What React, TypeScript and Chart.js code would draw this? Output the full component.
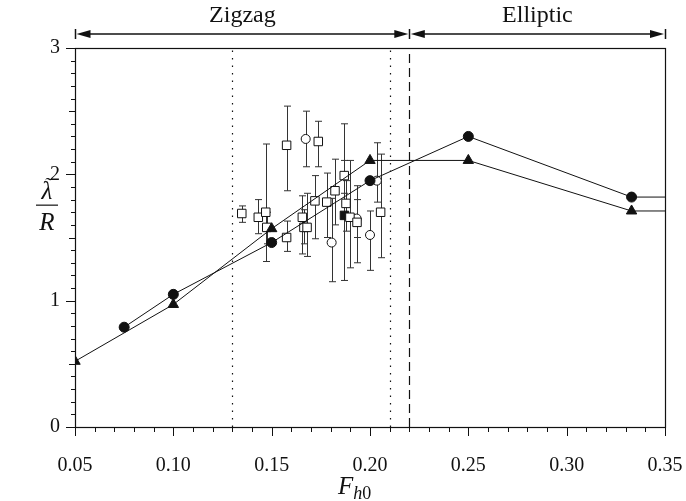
import React, { useEffect, useRef } from "react";
import { Chart, registerables } from "chart.js";

Chart.register(...registerables);

// ---- data ----
const xTickLabels = ["0.05", "0.10", "0.15", "0.20", "0.25", "0.30", "0.35"];
const yTickLabels = ["0", "1", "2", "3"];

// filled-circle series (last point only continues the line to the frame)
const circleX = [0.075, 0.1, 0.15, 0.2, 0.25, 0.333, 0.35];
const circleY = [0.79, 1.05, 1.46, 1.95, 2.3, 1.82, 1.82];
// filled-triangle series
const triX = [0.05, 0.1, 0.15, 0.2, 0.25, 0.333, 0.35];
const triY = [0.52, 0.97, 1.57, 2.11, 2.11, 1.71, 1.71];

// open squares with error bars
const sqX = [0.1348, 0.1432, 0.147, 0.1475, 0.1576, 0.1576, 0.1656, 0.1664, 0.168, 0.1737, 0.172, 0.178, 0.1822, 0.1869, 0.1878, 0.1898, 0.1934, 0.2054];
const sqY = [1.69, 1.66, 1.7, 1.58, 2.23, 1.5, 1.66, 1.58, 1.58, 2.26, 1.79, 1.78, 1.87, 1.99, 1.77, 1.66, 1.62, 1.7];
const sqLo = [1.62, 1.53, 1.31, 1.45, 1.87, 1.39, 1.37, 1.45, 1.35, 2.06, 1.49, 1.5, 1.6, 1.85, 1.55, 1.26, 1.3, 1.34];
const sqHi = [1.75, 1.8, 2.24, 1.7, 2.54, 1.63, 1.83, 1.72, 1.85, 2.42, 1.99, 2.01, 2.12, 2.11, 1.95, 2.11, 1.91, 2.16];

// open circles with error bars
const ocX = [0.1673, 0.1805, 0.1932, 0.2, 0.2035];
const ocY = [2.28, 1.46, 1.65, 1.52, 1.95];
const ocLo = [2.06, 1.15, 1.5, 1.24, 1.78];
const ocHi = [2.5, 1.81, 1.8, 1.71, 2.25];

// filled square with error bar
const fsX = [0.187];
const fsY = [1.675];
const fsLo = [1.16];
const fsHi = [2.4];

// regime boundaries and labels
const dottedLines = [0.13, 0.21];
const dashedLines = [0.22];
const regimeBounds = [0.05, 0.22, 0.35];
const regimeLabels = ["Zigzag", "Elliptic"];

const FONT = "'Liberation Serif', 'Times New Roman', serif";
const INK = "#111";

const errorSets = [
  { x: sqX, lo: sqLo, hi: sqHi },
  { x: ocX, lo: ocLo, hi: ocHi },
  { x: fsX, lo: fsLo, hi: fsHi },
];

const decorPlugin = {
  id: "decor",
  beforeDatasetsDraw(chart: any) {
    const { ctx, chartArea: a, scales } = chart;
    const xs = scales.x, ys = scales.y;
    ctx.save();
    ctx.strokeStyle = INK;
    ctx.lineWidth = 1.2;
    ctx.setLineDash([1.5, 6]);
    dottedLines.forEach((v) => {
      const px = Math.round(xs.getPixelForValue(v)) + 0.5;
      ctx.beginPath();
      ctx.moveTo(px, a.bottom);
      ctx.lineTo(px, a.top);
      ctx.stroke();
    });
    ctx.setLineDash([9, 5]);
    dashedLines.forEach((v) => {
      const px = Math.round(xs.getPixelForValue(v)) + 0.5;
      ctx.beginPath();
      ctx.moveTo(px, a.bottom);
      ctx.lineTo(px, a.top);
      ctx.stroke();
    });
    ctx.setLineDash([]);
    ctx.strokeStyle = "#333";
    ctx.lineWidth = 1;
    errorSets.forEach((s) => {
      s.x.forEach((xv, i) => {
        const px = Math.round(xs.getPixelForValue(xv)) + 0.5;
        const p1 = ys.getPixelForValue(s.lo[i]);
        const p2 = ys.getPixelForValue(s.hi[i]);
        ctx.beginPath();
        ctx.moveTo(px, p1);
        ctx.lineTo(px, p2);
        ctx.moveTo(px - 3.5, p1);
        ctx.lineTo(px + 3.5, p1);
        ctx.moveTo(px - 3.5, p2);
        ctx.lineTo(px + 3.5, p2);
        ctx.stroke();
      });
    });
    ctx.restore();
  },
  afterDraw(chart: any) {
    const { ctx, chartArea: a, scales } = chart;
    const xs = scales.x, ys = scales.y;
    ctx.save();
    ctx.strokeStyle = INK;
    ctx.fillStyle = INK;
    ctx.lineWidth = 1.2;
    ctx.strokeRect(Math.round(a.left) + 0.5, Math.round(a.top) + 0.5, Math.round(a.right - a.left), Math.round(a.bottom - a.top));
    ctx.lineWidth = 1;
    for (let k = 0; k <= 30; k++) {
      const v = k / 10;
      const py = Math.round(ys.getPixelForValue(v)) + 0.5;
      const len = k % 10 === 0 ? 9 : k % 5 === 0 ? 6 : 4;
      ctx.beginPath();
      ctx.moveTo(a.left, py);
      ctx.lineTo(a.left - len, py);
      ctx.stroke();
    }
    for (let k = 5; k <= 35; k++) {
      const v = k / 100;
      const px = Math.round(xs.getPixelForValue(v)) + 0.5;
      const len = k % 5 === 0 ? 9 : 5;
      ctx.beginPath();
      ctx.moveTo(px, a.bottom);
      ctx.lineTo(px, a.bottom + len);
      ctx.stroke();
    }
    const ay = a.top - 14;
    const drawHead = (tip: number, dir: number) => {
      ctx.beginPath();
      ctx.moveTo(tip, ay);
      ctx.lineTo(tip - dir * 14, ay - 4);
      ctx.lineTo(tip - dir * 14, ay + 4);
      ctx.closePath();
      ctx.fill();
    };
    ctx.lineWidth = 1.5;
    regimeBounds.forEach((v) => {
      const px = Math.round(xs.getPixelForValue(v)) + 0.5;
      ctx.beginPath();
      ctx.moveTo(px, ay - 5);
      ctx.lineTo(px, ay + 5);
      ctx.stroke();
    });
    for (let i = 0; i < regimeBounds.length - 1; i++) {
      const x1 = xs.getPixelForValue(regimeBounds[i]) + 1.5;
      const x2 = xs.getPixelForValue(regimeBounds[i + 1]) - 1;
      ctx.beginPath();
      ctx.moveTo(x1 + 10, ay);
      ctx.lineTo(x2 - 10, ay);
      ctx.stroke();
      drawHead(x1, -1);
      drawHead(x2, 1);
      ctx.font = `24px ${FONT}`;
      ctx.textAlign = "center";
      ctx.textBaseline = "alphabetic";
      ctx.fillText(regimeLabels[i], (x1 + x2) / 2, a.top - 26);
    }
    // x axis title F_h0
    const cx = (a.left + a.right) / 2 - 32;
    ctx.textAlign = "left";
    ctx.font = `italic 25px ${FONT}`;
    const fw = ctx.measureText("F").width;
    ctx.fillText("F", cx, 494);
    ctx.font = `italic 18px ${FONT}`;
    ctx.fillText("h", cx + fw, 499);
    const hw = ctx.measureText("h").width;
    ctx.font = `18px ${FONT}`;
    ctx.fillText("0", cx + fw + hw, 499);
    // y axis title lambda~ / R
    const yx = 47;
    const yc = ys.getPixelForValue(1.76);
    ctx.textAlign = "center";
    ctx.font = `italic 25px ${FONT}`;
    ctx.fillText("\u03BB", yx, yc - 6);
    ctx.font = `22px ${FONT}`;
    ctx.fillText("\u02DC", yx + 2, yc - 13);
    ctx.lineWidth = 1.2;
    ctx.beginPath();
    ctx.moveTo(yx - 11, yc + 0.5);
    ctx.lineTo(yx + 11, yc + 0.5);
    ctx.stroke();
    ctx.font = `italic 25px ${FONT}`;
    ctx.fillText("R", yx, yc + 25);
    ctx.restore();
  },
};

export default function App() {
  const ref = useRef<HTMLCanvasElement | null>(null);
  useEffect(() => {
    document.body.style.margin = "0";
    const canvas = ref.current;
    if (!canvas) return;
    let chart: any = null;
    let cancelled = false;
    const toPts = (xa: number[], ya: number[]) => xa.map((x, i) => ({ x, y: ya[i] }));
    const build = () => {
      if (cancelled) return;
      chart = new Chart(canvas, {
        type: "scatter",
        data: {
          datasets: [
            {
              label: "circles",
              data: toPts(circleX, circleY),
              showLine: true,
              borderColor: INK,
              borderWidth: 1,
              pointStyle: "circle",
              pointRadius: circleX.map((_, i) => (i === circleX.length - 1 ? 0 : 5)),
              pointBackgroundColor: INK,
              pointBorderColor: INK,
            },
            {
              label: "triangles",
              data: toPts(triX, triY),
              showLine: true,
              borderColor: INK,
              borderWidth: 1,
              pointStyle: "triangle",
              pointRadius: triX.map((_, i) => (i === triX.length - 1 ? 0 : 6)),
              pointBackgroundColor: INK,
              pointBorderColor: INK,
            },
            {
              label: "open squares",
              data: toPts(sqX, sqY),
              pointStyle: "rect",
              pointRadius: 6,
              pointBackgroundColor: "#fff",
              pointBorderColor: INK,
              pointBorderWidth: 1,
            },
            {
              label: "open circles",
              data: toPts(ocX, ocY),
              pointStyle: "circle",
              pointRadius: 4.5,
              pointBackgroundColor: "#fff",
              pointBorderColor: INK,
              pointBorderWidth: 1,
            },
            {
              label: "filled square",
              data: toPts(fsX, fsY),
              pointStyle: "rect",
              pointRadius: 6,
              pointBackgroundColor: INK,
              pointBorderColor: INK,
              pointBorderWidth: 1,
            },
          ],
        },
        options: {
          animation: false,
          responsive: false,
          devicePixelRatio: 1,
          layout: { padding: { top: 48, right: 21, left: 0, bottom: 0 } },
          plugins: { legend: { display: false }, tooltip: { enabled: false } },
          scales: {
            x: {
              type: "linear",
              min: 0.05,
              max: 0.35,
              grid: { display: false, drawTicks: false },
              border: { display: false },
              ticks: {
                stepSize: 0.05,
                padding: 27,
                color: INK,
                font: { family: FONT, size: 20 },
                maxRotation: 0,
                callback: (_v: any, i: number) => xTickLabels[i],
              },
              afterFit: (s: any) => {
                s.height = 74;
                s.paddingLeft = 0;
                s.paddingRight = 0;
              },
            },
            y: {
              type: "linear",
              min: 0,
              max: 3,
              grid: { display: false, drawTicks: false },
              border: { display: false },
              ticks: {
                stepSize: 1,
                padding: 15,
                color: INK,
                font: { family: FONT, size: 20 },
                callback: (_v: any, i: number) => yTickLabels[i],
              },
              afterFit: (s: any) => {
                s.width = 75;
                s.paddingTop = 0;
                s.paddingBottom = 0;
              },
            },
          },
        },
        plugins: [decorPlugin],
      } as any);
    };
    const fonts: any = (document as any).fonts;
    if (fonts && fonts.load) {
      Promise.all([
        fonts.load("20px 'Liberation Serif'"),
        fonts.load("italic 20px 'Liberation Serif'"),
      ])
        .catch(() => null)
        .then(build);
    } else {
      build();
    }
    return () => {
      cancelled = true;
      if (chart) chart.destroy();
    };
  }, []);
  return (
    <div style={{ width: 686, height: 501 }}>
      <canvas ref={ref} width={686} height={501} style={{ width: 686, height: 501, display: "block" }} />
    </div>
  );
}
